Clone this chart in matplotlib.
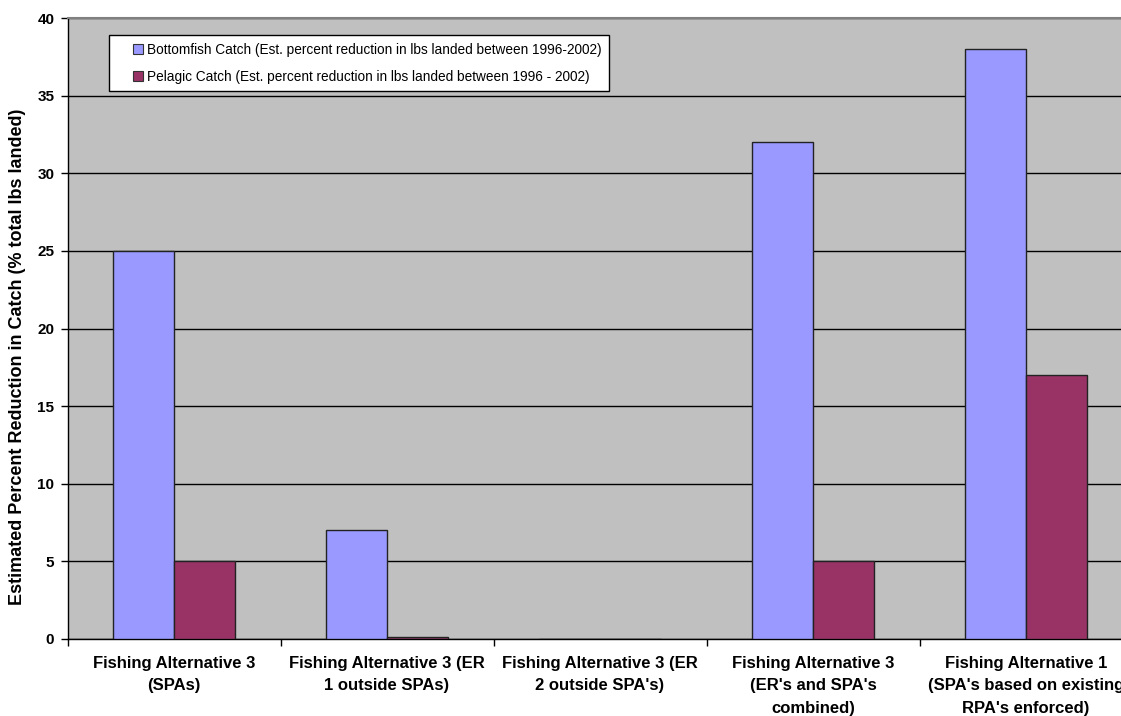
import matplotlib
matplotlib.use("Agg")
import matplotlib.pyplot as plt
import numpy as np
from matplotlib.transforms import Bbox
from matplotlib.lines import Line2D

categories = [
    "Fishing Alternative 3\n(SPAs)",
    "Fishing Alternative 3 (ER\n1 outside SPAs)",
    "Fishing Alternative 3 (ER\n2 outside SPA's)",
    "Fishing Alternative 3\n(ER's and SPA's\ncombined)",
    "Fishing Alternative 1\n(SPA's based on existing\nRPA's enforced)",
]
bottomfish = [25, 7, 0, 32, 38]
pelagic = [5, 0.1, 0, 5, 17]
series_names = [
    "Bottomfish Catch (Est. percent reduction in lbs landed between 1996-2002)",
    "Pelagic Catch (Est. percent reduction in lbs landed between 1996 - 2002)",
]
colors = ['#9999FF', '#993366']
yticks = [0, 5, 10, 15, 20, 25, 30, 35, 40]
ylabel = "Estimated Percent Reduction in Catch (% total lbs landed)"

plt.rcParams['font.family'] = ['Liberation Sans', 'DejaVu Sans']

W, H = 1121, 716
fig = plt.figure(figsize=(W / 100, H / 100), dpi=100)
left, right, top, bottom = 67.5, 1132.5, 18, 639
ax = fig.add_axes([left / W, 1 - bottom / H, (right - left) / W, (bottom - top) / H])
ax.set_facecolor('#C0C0C0')

x = np.arange(len(categories))
w = 1 / 3.5
ax.bar(x - w / 2, bottomfish, w, color=colors[0], edgecolor='#222222', linewidth=1.0, zorder=3)
ax.bar(x + w / 2, pelagic, w, color=colors[1], edgecolor='#222222', linewidth=1.0, zorder=3)

ax.set_xlim(-0.5, len(categories) - 0.5)
ax.set_ylim(0, 40)
ax.set_yticks(yticks)
ax.set_yticklabels([str(t) for t in yticks], fontsize=11, fontweight='bold')
ax.yaxis.grid(True, color='black', linewidth=1.0, zorder=1)
ax.set_axisbelow(True)

ax.set_xticks(np.arange(len(categories) + 1) - 0.5, minor=True)
ax.set_xticks(x)
ax.set_xticklabels(categories, fontsize=12, fontweight='bold', linespacing=1.64, va='top')
ax.tick_params(axis='x', which='major', length=0, pad=12)
ax.tick_params(axis='x', which='minor', length=5, width=1, direction='out', color='black')
ax.tick_params(axis='y', length=5, width=1, direction='out', pad=4.5)

for s in ['left', 'bottom']:
    ax.spines[s].set_color('black')
    ax.spines[s].set_linewidth(1.0)
ax.spines['top'].set_color('#808080')
ax.spines['top'].set_linewidth(1.5)
ax.spines['right'].set_visible(False)

handles = [Line2D([], [], linestyle='none', marker='s', markersize=7.0,
                  markerfacecolor=c, markeredgecolor='#333333', markeredgewidth=0.8)
           for c in colors]
leg = ax.legend(handles, series_names, loc='upper left',
                bbox_to_anchor=((109 - left) / (right - left), 1 - (35 - top) / (bottom - top)),
                frameon=True, fancybox=False, framealpha=1, fontsize=9.8, handlelength=3.15,
                handletextpad=-0.91, borderpad=0.56, labelspacing=0.97, borderaxespad=0)
leg.get_frame().set_edgecolor('black')
leg.get_frame().set_linewidth(1.0)
leg.get_frame().set_facecolor('white')

t = fig.text(18 / W, 1 - 605 / H, ylabel, rotation=90, ha='center', va='bottom',
             fontsize=13, fontweight='bold')
t.set_clip_box(Bbox.from_extents(0, H - 640, 40, H - 100))
t.set_clip_on(True)

fig.savefig('out.png', dpi=100)
